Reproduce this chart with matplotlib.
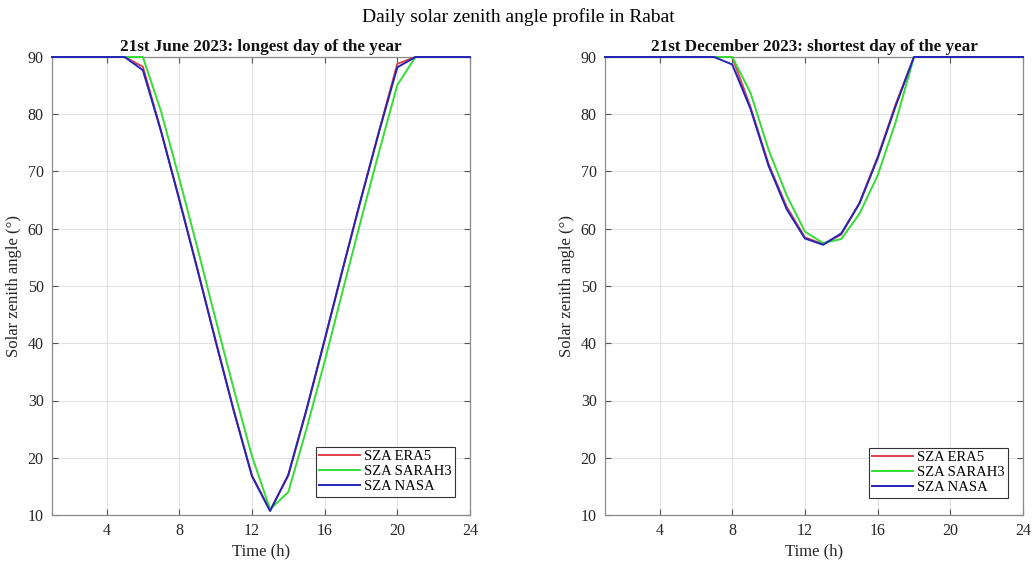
import matplotlib
matplotlib.use("Agg")
import matplotlib.pyplot as plt

hours = list(range(1, 25))

# 21 June 2023
jun_era5 = [90, 90, 90, 90, 90, 88.3, 77.1, 65.2, 53.0, 40.5, 28.3, 16.9,
            10.8, 16.9, 28.3, 40.5, 53.0, 65.2, 77.1, 88.8, 90, 90, 90, 90]
jun_sarah3 = [90, 90, 90, 90, 90, 90, 80.5, 68.8, 56.7, 44.2, 32.0, 20.3,
              11.0, 14.0, 25.0, 36.8, 49.2, 61.5, 73.5, 85.1, 90, 90, 90, 90]
jun_nasa = [90, 90, 90, 90, 90, 87.7, 77.0, 65.1, 52.9, 40.4, 28.2, 16.8,
            10.7, 17.0, 28.4, 40.6, 53.0, 65.2, 77.0, 88.2, 90, 90, 90, 90]

# 21 December 2023
dec_era5 = [90, 90, 90, 90, 90, 90, 90, 90, 81.3, 71.3, 63.8, 58.5,
            57.3, 59.0, 64.5, 72.5, 81.8, 90, 90, 90, 90, 90, 90, 90]
dec_sarah3 = [90, 90, 90, 90, 90, 90, 90, 90, 83.8, 73.8, 65.8, 59.5,
              57.5, 58.2, 62.6, 69.3, 78.7, 90, 90, 90, 90, 90, 90, 90]
dec_nasa = [90, 90, 90, 90, 90, 90, 90, 88.7, 81.0, 71.0, 63.4, 58.3,
            57.2, 59.2, 64.4, 72.3, 81.5, 90, 90, 90, 90, 90, 90, 90]

labels = ["SZA ERA5", "SZA SARAH3", "SZA NASA"]
colors = ["#e0404c", "#33dd33", "#2424b8"]
xticks = [4, 8, 12, 16, 20, 24]
yticks = [10, 20, 30, 40, 50, 60, 70, 80, 90]

plt.rcParams['font.family'] = ['Liberation Serif', 'DejaVu Serif']

fig = plt.figure(figsize=(10.36, 5.62), dpi=100)
W, H = 1036, 562
axL = fig.add_axes([52/W, 1 - 515/H, 418/W, 458/H])
axR = fig.add_axes([605/W, 1 - 515/H, 418/W, 458/H])

panels = [
    (axL, "21st June 2023: longest day of the year", [jun_era5, jun_sarah3, jun_nasa], (1 - 15/418, 18/458)),
    (axR, "21st December 2023: shortest day of the year", [dec_era5, dec_sarah3, dec_nasa], (1 - 15/418, 17/458)),
]

for ax, title, series, anchor in panels:
    for vals, lab, c in zip(series, labels, colors):
        ax.plot(hours, vals, color=c, lw=1.4, label=lab, clip_on=False, zorder=3)
    ax.set_xlim(1, 24)
    ax.set_ylim(10, 90)
    ax.set_xticks(xticks)
    ax.set_yticks(yticks)
    ax.grid(True, color="#e3e3e3", lw=0.8)
    ax.set_axisbelow(True)
    for s in ax.spines.values():
        s.set_color("#8a8a8a")
        s.set_linewidth(0.9)
    ax.tick_params(direction="in", length=4, color="#555555", labelcolor="#262626",
                   top=True, right=True, labelsize=11.5, pad=6)
    ax.set_title(title, fontweight="bold", fontsize=12.3, pad=4, color="#111111")
    ax.set_xlabel("Time (h)", fontsize=12, labelpad=3, color="#262626")
    ax.set_ylabel("Solar zenith angle (°)", fontsize=12, labelpad=4, color="#262626")
    leg = ax.legend(loc="lower right", bbox_to_anchor=anchor, borderaxespad=0,
                    fancybox=False, framealpha=1, edgecolor="#333333",
                    fontsize=10.5, handlelength=2.8, handletextpad=0.25,
                    labelspacing=0.12, borderpad=0.25)
    leg.get_frame().set_linewidth(0.8)

fig.suptitle("Daily solar zenith angle profile in Rabat", y=1 - 17/H, va="center", fontsize=14)

fig.savefig("out.png", dpi=100)
